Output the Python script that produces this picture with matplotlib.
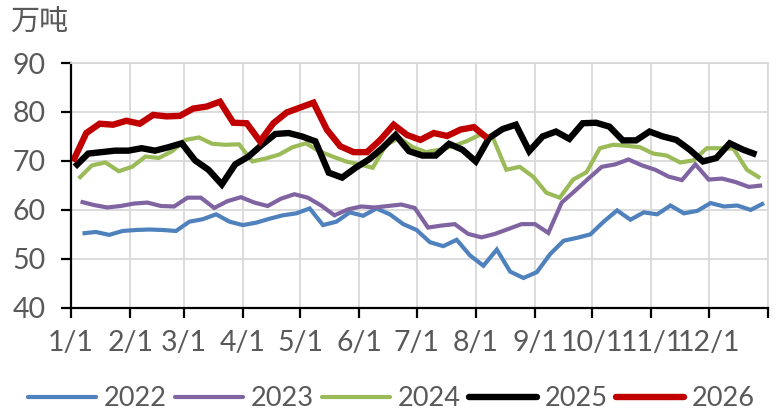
import numpy as np
import pandas as pd
import matplotlib
matplotlib.use('Agg')
from matplotlib import pyplot as plt

plt.rcParams['font.family'] = ['Lato', 'Noto Sans CJK SC', 'DejaVu Sans']

# weekly values (万吨), every Friday from the first week of each year
v2022 = [55.2, 55.5, 54.9, 55.7, 55.9, 56.0, 55.9, 55.7, 57.6, 58.1, 59.1, 57.6, 56.9,
         57.4, 58.2, 58.9, 59.3, 60.3, 56.9, 57.6, 59.5, 58.8, 60.3, 59.1, 57.1, 55.9,
         53.4, 52.6, 53.9, 50.7, 48.6, 51.9, 47.4, 46.1, 47.3, 51.0, 53.7, 54.3, 55.0,
         57.6, 59.9, 58.0, 59.5, 59.1, 60.9, 59.3, 59.8, 61.4, 60.7, 60.9, 60.0, 61.4]
v2023 = [61.7, 61.0, 60.5, 60.8, 61.3, 61.5, 60.8, 60.7, 62.5, 62.5, 60.4, 61.8, 62.6,
         61.5, 60.8, 62.3, 63.2, 62.5, 60.9, 58.9, 60.1, 60.7, 60.5, 60.8, 61.1, 60.4,
         56.4, 56.8, 57.1, 55.1, 54.4, 55.1, 56.1, 57.1, 57.1, 55.3, 61.5, 63.9, 66.4,
         68.8, 69.3, 70.3, 69.1, 68.2, 66.8, 66.1, 69.3, 66.2, 66.4, 65.7, 64.7, 65.0]
v2024 = [66.4, 69.1, 69.7, 67.9, 68.8, 70.9, 70.6, 72.0, 74.3, 74.8, 73.5, 73.3, 73.4,
         69.9, 70.5, 71.3, 72.8, 73.6, 72.0, 70.9, 69.9, 69.3, 68.6, 73.3, 74.7, 72.8,
         71.8, 72.3, 73.0, 74.0, 75.3, 74.7, 68.2, 68.8, 66.8, 63.5, 62.5, 66.2, 67.7,
         72.6, 73.3, 73.1, 72.8, 71.5, 71.1, 69.7, 70.1, 72.6, 72.6, 72.5, 68.2, 66.5]
v2025 = [68.8, 71.5, 71.8, 72.1, 72.1, 72.6, 72.1, 72.8, 73.6, 70.1, 68.2, 65.2, 69.3,
         70.9, 73.3, 75.5, 75.7, 75.0, 74.0, 67.6, 66.6, 68.6, 70.3, 72.6, 75.3, 72.0,
         71.1, 71.1, 73.5, 72.3, 69.9, 74.7, 76.5, 77.4, 72.0, 75.0, 76.0, 74.5, 77.7,
         77.8, 77.0, 74.2, 74.2, 76.0, 75.0, 74.3, 72.3, 69.9, 70.6, 73.6, 72.3, 71.3]
v2026 = [69.9, 75.7, 77.6, 77.4, 78.2, 77.6, 79.4, 79.1, 79.2, 80.7, 81.1, 82.1, 77.8,
         77.7, 74.0, 77.7, 79.9, 80.9, 81.9, 76.4, 73.0, 71.8, 71.8, 74.3, 77.4, 75.3,
         74.3, 75.7, 75.1, 76.4, 76.9, 74.7]

first_friday = {'2022': '2022-01-07', '2023': '2023-01-06', '2024': '2024-01-05',
                '2025': '2025-01-03', '2026': '2026-01-02'}
series = {'2022': v2022, '2023': v2023, '2024': v2024, '2025': v2025, '2026': v2026}
colors = {'2022': '#4f81bd', '2023': '#8064a2', '2024': '#9bbb59',
          '2025': '#000000', '2026': '#c00000'}
widths = {'2022': 3.0, '2023': 3.0, '2024': 3.0, '2025': 4.6, '2026': 4.6}

month_labels = ['1/1', '2/1', '3/1', '4/1', '5/1', '6/1', '7/1', '8/1', '9/1',
                '10/1', '11/1', '12/1', '']
month_days = [0, 31, 59, 90, 120, 151, 181, 212, 243, 273, 304, 334, 365]

fig = plt.figure(figsize=(7.83, 4.2), dpi=100)
ax = fig.add_axes([0.0907, 0.267, 0.890, 0.583])

for yr, vals in series.items():
    d = pd.date_range(first_friday[yr], periods=len(vals), freq='7D')
    x = np.array(d.dayofyear) - 1
    ax.plot(x, vals, color=colors[yr], lw=widths[yr], label=yr,
            solid_joinstyle='miter', solid_capstyle='butt')

ax.set_xlim(0, 365)
ax.set_ylim(40, 90)
ax.set_yticks([40, 50, 60, 70, 80, 90])
ax.set_xticks(month_days)
ax.set_xticklabels(month_labels)
ax.grid(True, color='#d9d9d9', lw=1.3)
ax.set_axisbelow(True)
for s in ['top', 'right']:
    ax.spines[s].set_color('#d9d9d9')
    ax.spines[s].set_linewidth(1.3)
for s in ['left', 'bottom']:
    ax.spines[s].set_color('black')
    ax.spines[s].set_linewidth(1.6)
ax.tick_params(axis='both', direction='out', length=7, width=1.6, color='black',
               labelsize=20.5, labelcolor='#595959')
ax.tick_params(axis='y', pad=11)
ax.tick_params(axis='x', pad=9)

fig.text(0.013, 0.985, '万吨', fontsize=21, color='#595959', va='top', ha='left',
         family=['Noto Sans CJK SC'])

leg = fig.legend(loc='center', bbox_to_anchor=(0.5, 0.05), ncol=5, frameon=False,
                 fontsize=19.5, handlelength=2.5, handletextpad=0.3, columnspacing=0.3,
                 labelcolor='#595959')
for h in leg.get_lines():
    h.set_solid_capstyle('round')

fig.savefig('out.png', dpi=100)
